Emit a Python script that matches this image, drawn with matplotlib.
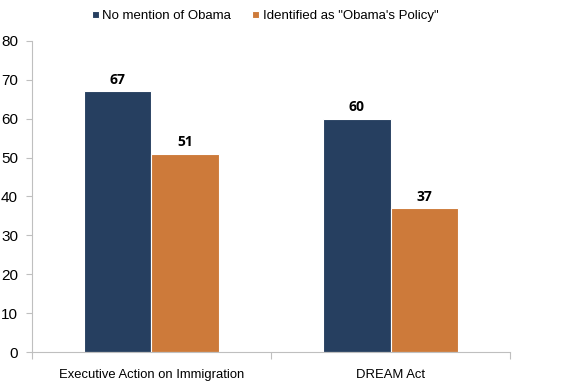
import matplotlib.pyplot as plt
import numpy as np

categories = ["Executive Action on Immigration", "DREAM Act"]
series_names = ["No mention of Obama", "Identified as \"Obama's Policy\""]
no_mention = [67, 60]
obama_policy = [51, 37]
yticks = [0, 10, 20, 30, 40, 50, 60, 70, 80]

blue = "#263F60"
orange = "#CD7A3A"
grey = "#BFBFBF"

plt.rcParams['font.family'] = ['Liberation Sans', 'DejaVu Sans']

fig = plt.figure(figsize=(5.7, 3.85), dpi=100)
ax = fig.add_axes([0.056, 0.0857, 0.839, 0.808])

x = np.arange(len(categories))
w = 0.283
b1 = ax.bar(x - w / 2, no_mention, w, color=blue, edgecolor="white", linewidth=0.8, label=series_names[0])
b2 = ax.bar(x + w / 2, obama_policy, w, color=orange, edgecolor="white", linewidth=0.8, label=series_names[1])

# value labels above each bar
for bars, vals in ((b1, no_mention), (b2, obama_policy)):
    for r, v in zip(bars, vals):
        ax.text(r.get_x() + r.get_width() / 2, v + 1.1, str(v), ha="center", va="bottom",
                fontsize=10, fontweight="bold", family=['Open Sans', 'DejaVu Sans'])

ax.set_xlim(-0.5, 1.5)
ax.set_ylim(0, 80)
ax.set_yticks(yticks)
ax.set_xticks([-0.5, 0.5, 1.5])
ax.set_xticklabels([])
ax.set_xticks(x, minor=True)
ax.set_xticklabels(categories, minor=True)
ax.tick_params(axis="x", which="minor", length=0, pad=12, labelsize=9.4)
ax.tick_params(axis="x", which="major", length=5, color=grey, direction="out")
ax.tick_params(axis="y", length=4, color=grey, labelsize=11, pad=6)

for s in ("top", "right"):
    ax.spines[s].set_visible(False)
for s in ("left", "bottom"):
    ax.spines[s].set_color(grey)

fig.legend(handles=[b1, b2], loc="center", bbox_to_anchor=(0.465, 0.958), ncol=2, frameon=False,
           fontsize=9.5, handlelength=0.55, handleheight=0.55, handletextpad=0.25, columnspacing=1.6)

fig.savefig("out.png", dpi=100)
